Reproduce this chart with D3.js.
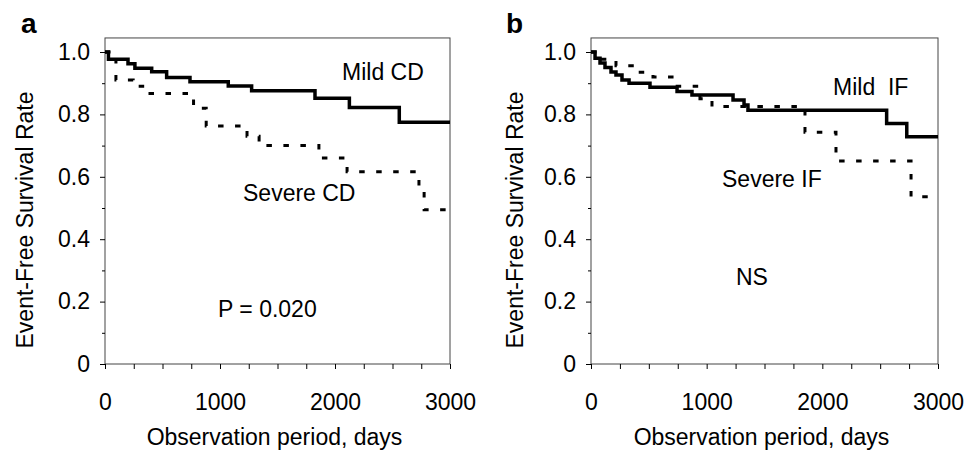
<!DOCTYPE html>
<html>
<head>
<meta charset="utf-8">
<script src="https://cdn.jsdelivr.net/npm/d3@7"></script>
<style>
  body { margin:0; background:#fff; }
  svg text { font-family:"Liberation Sans", Arial, sans-serif; fill:#000; }
  .axis path, .axis line { stroke:#000; stroke-width:1; }
</style>
</head>
<body>
<div id="canvas"></div>
<script>
// Kaplan-Meier steps: day of each drop, survival after it
var mildCdDays   = [0, 30, 200, 260, 406, 536, 739, 1072, 1275, 1826, 2125, 2559, 3000];
var mildCdSurv   = [1.0, 0.977, 0.962, 0.948, 0.937, 0.918, 0.905, 0.891, 0.876, 0.852, 0.822, 0.775, 0.775];
var severeCdDays = [0, 95, 245, 365, 770, 880, 1235, 1340, 1860, 2105, 2730, 2775, 3000];
var severeCdSurv = [1.0, 0.91, 0.89, 0.867, 0.82, 0.763, 0.73, 0.70, 0.66, 0.616, 0.57, 0.494, 0.494];

var mildIfDays   = [0, 35, 78, 121, 173, 216, 268, 329, 510, 744, 873, 1228, 1323, 1357, 2556, 2730, 3000];
var mildIfSurv   = [1.0, 0.98, 0.965, 0.95, 0.936, 0.926, 0.91, 0.90, 0.887, 0.873, 0.862, 0.846, 0.83, 0.813, 0.771, 0.728, 0.728];
var severeIfDays = [0, 78, 216, 398, 536, 726, 942, 1046, 1850, 2118, 2767, 3000];
var severeIfSurv = [1.0, 0.977, 0.956, 0.935, 0.92, 0.89, 0.85, 0.825, 0.743, 0.651, 0.536, 0.536];

var xTicks = d3.range(0, 3001, 250);
var xLabels = [0, 1000, 2000, 3000];
var yTicks = d3.range(0, 11).map(function(i){ return i/10; });
var yLabels = ['0', '0.2', '0.4', '0.6', '0.8', '1.0'];

var W = 978, H = 456;
var svg = d3.select('#canvas').append('svg')
    .attr('width', W).attr('height', H);

function zip(days, surv){
    return days.map(function(d, i){ return {day:d, s:surv[i]}; });
}

function drawPanel(p){
    var scaleX = d3.scaleLinear().domain([0, 3000]).range([p.x0, p.x1]);
    var scaleY = d3.scaleLinear().domain([0, 1]).range([364, 52]);
    var g = svg.append('g');

    // frame
    g.append('rect')
        .attr('x', scaleX(0)).attr('y', scaleY(1.045))
        .attr('width', scaleX(3000) - scaleX(0))
        .attr('height', scaleY(0) - scaleY(1.045))
        .style('fill', 'none').style('stroke', '#444').style('stroke-width', 1);

    var axisX = d3.axisBottom(scaleX).tickValues(xTicks).tickSize(5).tickSizeOuter(0)
        .tickFormat(function(d){ return xLabels.indexOf(d) >= 0 ? d : ''; });
    var gx = g.append('g').attr('class', 'axis')
        .attr('transform', 'translate(0,' + scaleY(0) + ')')
        .call(axisX);
    gx.selectAll('text').attr('y', 46).attr('dy', 0).style('font-size', '23px');

    var axisY = d3.axisLeft(scaleY).tickValues(yTicks).tickSize(5).tickSizeOuter(0).tickPadding(10)
        .tickFormat(function(d, i){ return i % 2 === 0 ? yLabels[i/2] : ''; });
    var gy = g.append('g').attr('class', 'axis')
        .attr('transform', 'translate(' + scaleX(0) + ',0)')
        .call(axisY);
    gy.selectAll('text').style('font-size', '23px');
    // minor ticks (odd tenths) are shorter
    gy.selectAll('.tick line').attr('x2', function(d, i){ return i % 2 === 0 ? -5 : -3; });
    gx.select('.domain').remove();
    gy.select('.domain').remove();

    var line = d3.line()
        .x(function(d){ return scaleX(d.day); })
        .y(function(d){ return scaleY(d.s); })
        .curve(d3.curveStepAfter);

    g.append('path').datum(p.mild).attr('d', line)
        .style('fill', 'none').style('stroke', '#000').style('stroke-width', 3.5);
    g.append('path').datum(p.severe).attr('d', line)
        .style('fill', 'none').style('stroke', '#000').style('stroke-width', 3)
        .style('stroke-dasharray', '5.5,11.5');

    // axis titles
    g.append('text')
        .attr('transform', 'translate(' + p.yTitleX + ',' + 220 + ') rotate(-90)')
        .attr('text-anchor', 'middle')
        .style('font-size', '23px')
        .text('Event-Free Survival Rate');
    g.append('text')
        .attr('x', (scaleX(0) + scaleX(3000)) / 2 - 3).attr('y', 445)
        .attr('text-anchor', 'middle')
        .style('font-size', '23px')
        .text('Observation period, days');

    // panel letter
    g.append('text')
        .attr('x', p.letterX).attr('y', 33)
        .style('font-size', '28px').style('font-weight', 'bold')
        .text(p.letter);

    p.notes.forEach(function(n){
        g.append('text')
            .attr('x', n.x).attr('y', n.y)
            .style('font-size', '23px')
            .style('white-space', 'pre')
            .text(n.t);
    });
}

drawPanel({
    x0:105, x1:450, yTitleX:33, letter:'a', letterX:21,
    mild:zip(mildCdDays, mildCdSurv),
    severe:zip(severeCdDays, severeCdSurv),
    notes:[
        {t:'Mild CD', x:342, y:80},
        {t:'Severe CD', x:243, y:201},
        {t:'P = 0.020', x:218, y:317}
    ]
});

drawPanel({
    x0:591, x1:938, yTitleX:523, letter:'b', letterX:506,
    mild:zip(mildIfDays, mildIfSurv),
    severe:zip(severeIfDays, severeIfSurv),
    notes:[
        {t:'Mild  IF', x:833, y:95},
        {t:'Severe IF', x:722, y:187},
        {t:'NS', x:736, y:285}
    ]
});
</script>
</body>
</html>
